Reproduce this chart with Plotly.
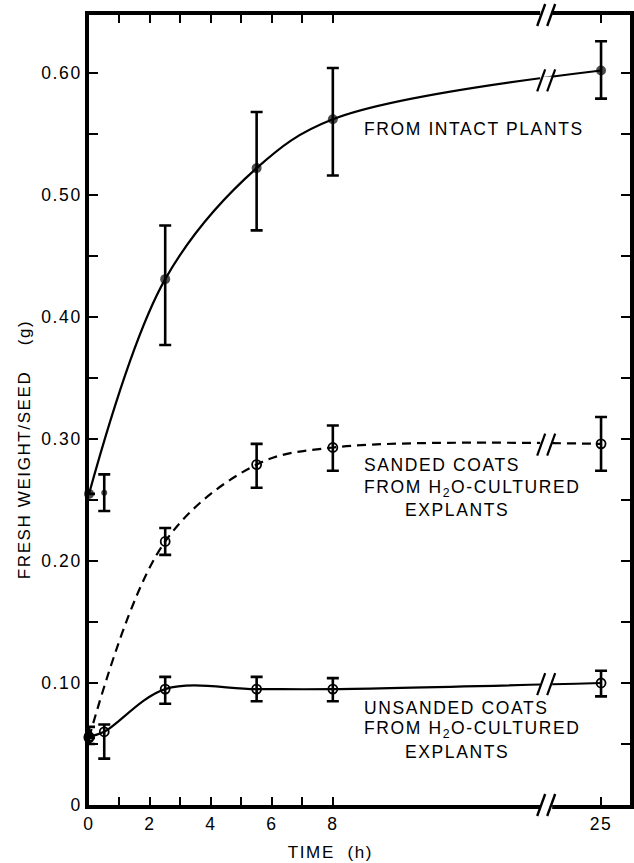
import plotly.graph_objects as go

# ---------------- data ----------------
time_h = [0, 0.5, 2.5, 5.5, 8, 25]
intact = [0.255, 0.256, 0.431, 0.522, 0.562, 0.602]
intact_up = [0.0, 0.015, 0.044, 0.046, 0.042, 0.024]
intact_dn = [0.0, 0.015, 0.054, 0.051, 0.046, 0.023]

sanded_t = [0, 2.5, 5.5, 8, 25]
sanded = [0.055, 0.216, 0.279, 0.293, 0.296]
sanded_up = [0.0, 0.011, 0.017, 0.018, 0.022]
sanded_dn = [0.0, 0.011, 0.019, 0.019, 0.022]

unsanded_t = [0, 0.5, 2.5, 5.5, 8, 25]
unsanded = [0.056, 0.060, 0.095, 0.095, 0.095, 0.100]
unsanded_up = [0.008, 0.006, 0.010, 0.010, 0.009, 0.010]
unsanded_dn = [0.006, 0.022, 0.012, 0.010, 0.010, 0.011]

x_major_h = [0, 2, 4, 6, 8, 25]
x_major_text = ["0", "2", "4", "6", "8", "25"]
x_minor_h = [1, 3, 5, 7]
y_major = [0, 0.10, 0.20, 0.30, 0.40, 0.50, 0.60]
y_major_text = ["0", "0.10", "0.20", "0.30", "0.40", "0.50", "0.60"]
y_minor = [0.05, 0.15, 0.25, 0.35, 0.45, 0.55]

# ---------------- broken time scale ----------------
LIN_END = 8.0        # last hour on the linear part
FAR_T = 25.0         # hour shown after the break
FAR_POS = 16.8       # axis position of that hour
BREAK_POS = 15.0     # axis position of the break marks
X_MAX = 17.75
Y_MAX = 0.6475


def xd(t):
    if t <= LIN_END:
        return t
    return LIN_END + (t - LIN_END) * (FAR_POS - LIN_END) / (FAR_T - LIN_END)


W, H = 634, 863
ML, MR, MT, MB = 89, 4, 15, 58
PW, PH = W - ML - MR, H - MT - MB


def px_x(v):  # axis value -> paper
    return v / X_MAX


def px_y(v):
    return v / Y_MAX


FONT = "Liberation Sans, Arial, Helvetica, sans-serif"
BLACK = "#000000"

fig = go.Figure()


def curve(ts, ys, dash, skip=()):
    xs = [xd(t) for i, t in enumerate(ts) if i not in skip]
    yv = [y for i, y in enumerate(ys) if i not in skip]
    fig.add_trace(go.Scatter(x=xs, y=yv, mode="lines",
                             line=dict(color=BLACK, width=2.2, dash=dash, shape="spline", smoothing=1.0),
                             hoverinfo="skip", showlegend=False))


def points(ts, ys, up, dn, symbol, size, lw):
    fig.add_trace(go.Scatter(
        x=[xd(t) for t in ts], y=ys, mode="markers",
        marker=dict(symbol=symbol, size=size, color=BLACK,
                    line=dict(color=BLACK, width=lw)),
        error_y=dict(type="data", symmetric=False, array=up, arrayminus=dn,
                     color=BLACK, thickness=2.6, width=6),
        cliponaxis=False, showlegend=False))


curve(time_h, intact, "solid", skip=(1,))
curve(sanded_t, sanded, "9px,6px")
curve(unsanded_t, unsanded, "solid")
points(time_h, intact, intact_up, intact_dn, "circle", [10, 6, 10, 10, 10, 10], 0)
points(sanded_t, sanded, sanded_up, sanded_dn, "circle-open", 9, 1.8)
points(unsanded_t, unsanded, unsanded_up, unsanded_dn, "circle-open", 9, 1.8)

# ---------------- break marks ----------------
shapes = []


def break_mark(yval, half_h=11, gap=12, lw=2.2):
    xc = px_x(BREAK_POS)
    yc = px_y(yval)
    dx = 1.0 / PW
    dy = 1.0 / PH
    shapes.append(dict(type="rect", xref="paper", yref="paper",
                       x0=xc - gap / 2 * dx, x1=xc + gap / 2 * dx,
                       y0=yc - 4 * dy, y1=yc + 4 * dy,
                       fillcolor="white", line=dict(width=0), layer="above"))
    for off in (-5, 5):
        shapes.append(dict(type="line", xref="paper", yref="paper",
                           x0=xc + (off - 4) * dx, y0=yc - half_h * dy,
                           x1=xc + (off + 4) * dx, y1=yc + half_h * dy,
                           line=dict(color=BLACK, width=lw), layer="above"))


def interp_far(ys):
    a, b = ys[-2], ys[-1]
    f = (BREAK_POS - xd(LIN_END)) / (xd(FAR_T) - xd(LIN_END))
    return a + (b - a) * f


break_mark(interp_far(intact))
break_mark(interp_far(sanded))
break_mark(interp_far(unsanded))
break_mark(0.0, gap=12, lw=2.4)
break_mark(Y_MAX, gap=12, lw=2.4)

# ---------------- labels ----------------
annots = []
LBL = 17.5


def label(text, xpos, yval):
    annots.append(dict(text=text, x=xpos, y=yval, xref="x", yref="y",
                       xanchor="left", yanchor="middle", align="left", showarrow=False,
                       font=dict(family=FONT, size=LBL, color=BLACK)))


lx = 8.96
label("FROM INTACT PLANTS", lx, 0.554)
label("SANDED COATS", lx, 0.2787)
label("FROM H<sub>2</sub>O-CULTURED", lx, 0.2598)
label("EXPLANTS", 10.3, 0.2418)
label("UNSANDED COATS", lx, 0.0795)
label("FROM H<sub>2</sub>O-CULTURED", lx, 0.0615)
label("EXPLANTS", 10.3, 0.0434)

# axis titles (placed where the reference has them)
annots.append(dict(text="TIME  (h)", xref="paper", yref="paper",
                   x=(330 - ML) / PW, y=(H - MB - 852) / PH,
                   xanchor="center", yanchor="middle", showarrow=False,
                   font=dict(family=FONT, size=17, color=BLACK)))
annots.append(dict(text="FRESH WEIGHT/SEED    (g)", xref="paper", yref="paper",
                   x=(24 - ML) / PW, y=(H - MB - 450) / PH, textangle=-90,
                   xanchor="center", yanchor="middle", showarrow=False,
                   font=dict(family=FONT, size=17, color=BLACK)))

tick_style = dict(ticks="inside", tickwidth=2, tickcolor=BLACK)

fig.update_layout(
    width=W, height=H,
    margin=dict(l=ML, r=MR, t=MT, b=MB, autoexpand=False),
    paper_bgcolor="white", plot_bgcolor="white",
    font=dict(family=FONT, size=17, color=BLACK),
    shapes=shapes, annotations=annots,
    xaxis=dict(range=[0, X_MAX], showgrid=False, zeroline=False,
               tickmode="array", tickvals=[xd(t) for t in x_major_h], ticktext=x_major_text,
               ticklen=8, **tick_style,
               minor=dict(tickmode="array", tickvals=[xd(t) for t in x_minor_h], ticklen=8,
                          showgrid=False, **tick_style),
               showline=True, linewidth=4, linecolor=BLACK, mirror="ticks",
               tickfont=dict(size=17.5), automargin=False),
    yaxis=dict(range=[0, Y_MAX], showgrid=False, zeroline=False,
               tickmode="array", tickvals=y_major, ticktext=y_major_text,
               ticklen=9, **tick_style,
               minor=dict(tickmode="array", tickvals=y_minor, ticklen=9,
                          showgrid=False, **tick_style),
               showline=True, linewidth=3.5, linecolor=BLACK, mirror="ticks",
               tickfont=dict(size=17.5), automargin=False),
)

post = ("document.body.style.margin='0';document.body.style.overflow='hidden';"
        "var s=document.createElement('style');"
        "s.textContent='.js-plotly-plot svg text{letter-spacing:1.6px;}';"
        "document.head.appendChild(s);")

fig.write_html("out.html", post_script=post, config={"displayModeBar": False})
